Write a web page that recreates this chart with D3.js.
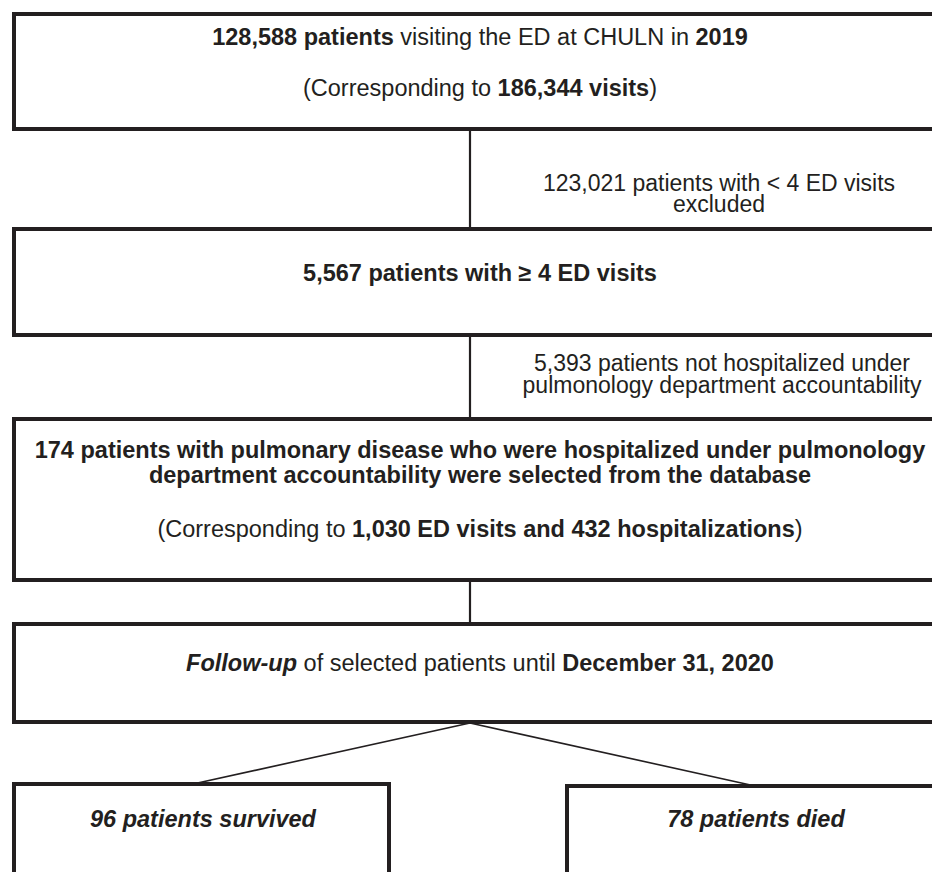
<!DOCTYPE html>
<html>
<head>
<meta charset="utf-8">
<script src="https://cdn.jsdelivr.net/npm/d3@7"></script>
<style>
  body { margin: 0; background: #fff; }
  svg { display: block; }
</style>
</head>
<body>
<svg id="chart"></svg>
<script>
// text of each box, one entry per line, each line a list of [text, style] segments
// style: "b" bold, "bi" bold italic, "" regular
const boxTexts = [
    [
        [["128,588 patients", "b"], [" visiting the ED at CHULN in ", ""], ["2019", "b"]],
        [["(Corresponding to ", ""], ["186,344 visits", "b"], [")", ""]]
    ],
    [
        [["5,567 patients with \u2265 4 ED visits", "b"]]
    ],
    [
        [["174 patients with pulmonary disease who were hospitalized under pulmonology", "b"]],
        [["department accountability were selected from the database", "b"]],
        [["(Corresponding to ", ""], ["1,030 ED visits and 432 hospitalizations", "b"], [")", ""]]
    ],
    [
        [["Follow-up", "bi"], [" of selected patients until ", ""], ["December 31, 2020", "b"]]
    ]
];

const exclusionTexts = [
    ["123,021 patients with < 4 ED visits", "excluded"],
    ["5,393 patients not hospitalized under", "pulmonology department accountability"]
];

const outcomeTexts = [
    "96 patients survived",
    "78 patients died"
];

const width = 932, height = 872;
const ink = "#231f20";

const svg = d3.select("#chart").attr("width", width).attr("height", height);

// layout
const boxLeft = 14, boxRight = 950, spineX = 470, textCx = 480;
const boxes = [
    {top: 14, bottom: 129, baselines: [44.5, 95.5]},
    {top: 229, bottom: 335, baselines: [281]},
    {top: 419, bottom: 580, baselines: [458, 483, 537]},
    {top: 624, bottom: 722, baselines: [671]}
];
const exclusions = [
    {cx: 719, baselines: [190.5, 212]},
    {cx: 722, baselines: [371, 393]}
];
const outcomes = [
    {x0: 14, x1: 389, top: 784, cx: 203, join: 193, baseline: 826.5},
    {x0: 567, x1: 945, top: 786, cx: 756, join: 755, baseline: 826.5}
];

const fontFamily = "'Liberation Sans', Arial, Helvetica, sans-serif";
const fontSize = 23.5;
const noteSize = 23;

function styleSpan(sel, style) {
    sel.attr("font-weight", style.includes("b") ? "bold" : "normal")
        .attr("font-style", style.includes("i") ? "italic" : "normal");
}

// connectors along the spine
const spine = [];
for (let i = 0; i < boxes.length - 1; i++) spine.push([boxes[i].bottom, boxes[i + 1].top]);
svg.selectAll("line.spine")
    .data(spine).enter()
    .append("line")
    .attr("class", "spine")
    .attr("x1", spineX).attr("x2", spineX)
    .attr("y1", d => d[0]).attr("y2", d => d[1])
    .attr("stroke", ink)
    .attr("stroke-width", 2.2);

// branches to outcomes
svg.selectAll("line.branch")
    .data(outcomes).enter()
    .append("line")
    .attr("class", "branch")
    .attr("x1", spineX).attr("y1", boxes[3].bottom + 1)
    .attr("x2", d => d.join).attr("y2", d => d.top)
    .attr("stroke", ink)
    .attr("stroke-width", 1.6);

// main boxes
const g = svg.selectAll("g.box")
    .data(boxes).enter()
    .append("g")
    .attr("class", "box");

g.append("rect")
    .attr("x", boxLeft)
    .attr("y", d => d.top)
    .attr("width", boxRight - boxLeft)
    .attr("height", d => d.bottom - d.top)
    .attr("fill", "none")
    .attr("stroke", ink)
    .attr("stroke-width", 4);

g.each(function (d, i) {
    const lines = boxTexts[i];
    lines.forEach((segs, j) => {
        const t = d3.select(this).append("text")
            .attr("x", textCx)
            .attr("y", d.baselines[j])
            .attr("text-anchor", "middle")
            .attr("font-family", fontFamily)
            .attr("font-size", fontSize)
            .attr("fill", ink);
        segs.forEach(s => {
            t.append("tspan").text(s[0]).call(styleSpan, s[1]);
        });
    });
});

// exclusion notes (two lines in one text element)
exclusionTexts.forEach((lines, i) => {
    const t = svg.append("text")
        .attr("text-anchor", "middle")
        .attr("font-family", fontFamily)
        .attr("font-size", noteSize)
        .attr("fill", ink);
    lines.forEach((line, j) => {
        t.append("tspan")
            .attr("x", exclusions[i].cx)
            .attr("y", exclusions[i].baselines[j])
            .text(line);
    });
});

// outcome boxes
const og = svg.selectAll("g.outcome")
    .data(outcomes).enter()
    .append("g")
    .attr("class", "outcome");

og.append("rect")
    .attr("x", d => d.x0)
    .attr("y", d => d.top)
    .attr("width", d => d.x1 - d.x0)
    .attr("height", height + 20 - 784)
    .attr("fill", "none")
    .attr("stroke", ink)
    .attr("stroke-width", 4);

og.append("text")
    .attr("x", d => d.cx)
    .attr("y", d => d.baseline)
    .attr("text-anchor", "middle")
    .attr("font-family", fontFamily)
    .attr("font-size", fontSize)
    .attr("font-weight", "bold")
    .attr("font-style", "italic")
    .attr("fill", ink)
    .text((d, i) => outcomeTexts[i]);
</script>
</body>
</html>
